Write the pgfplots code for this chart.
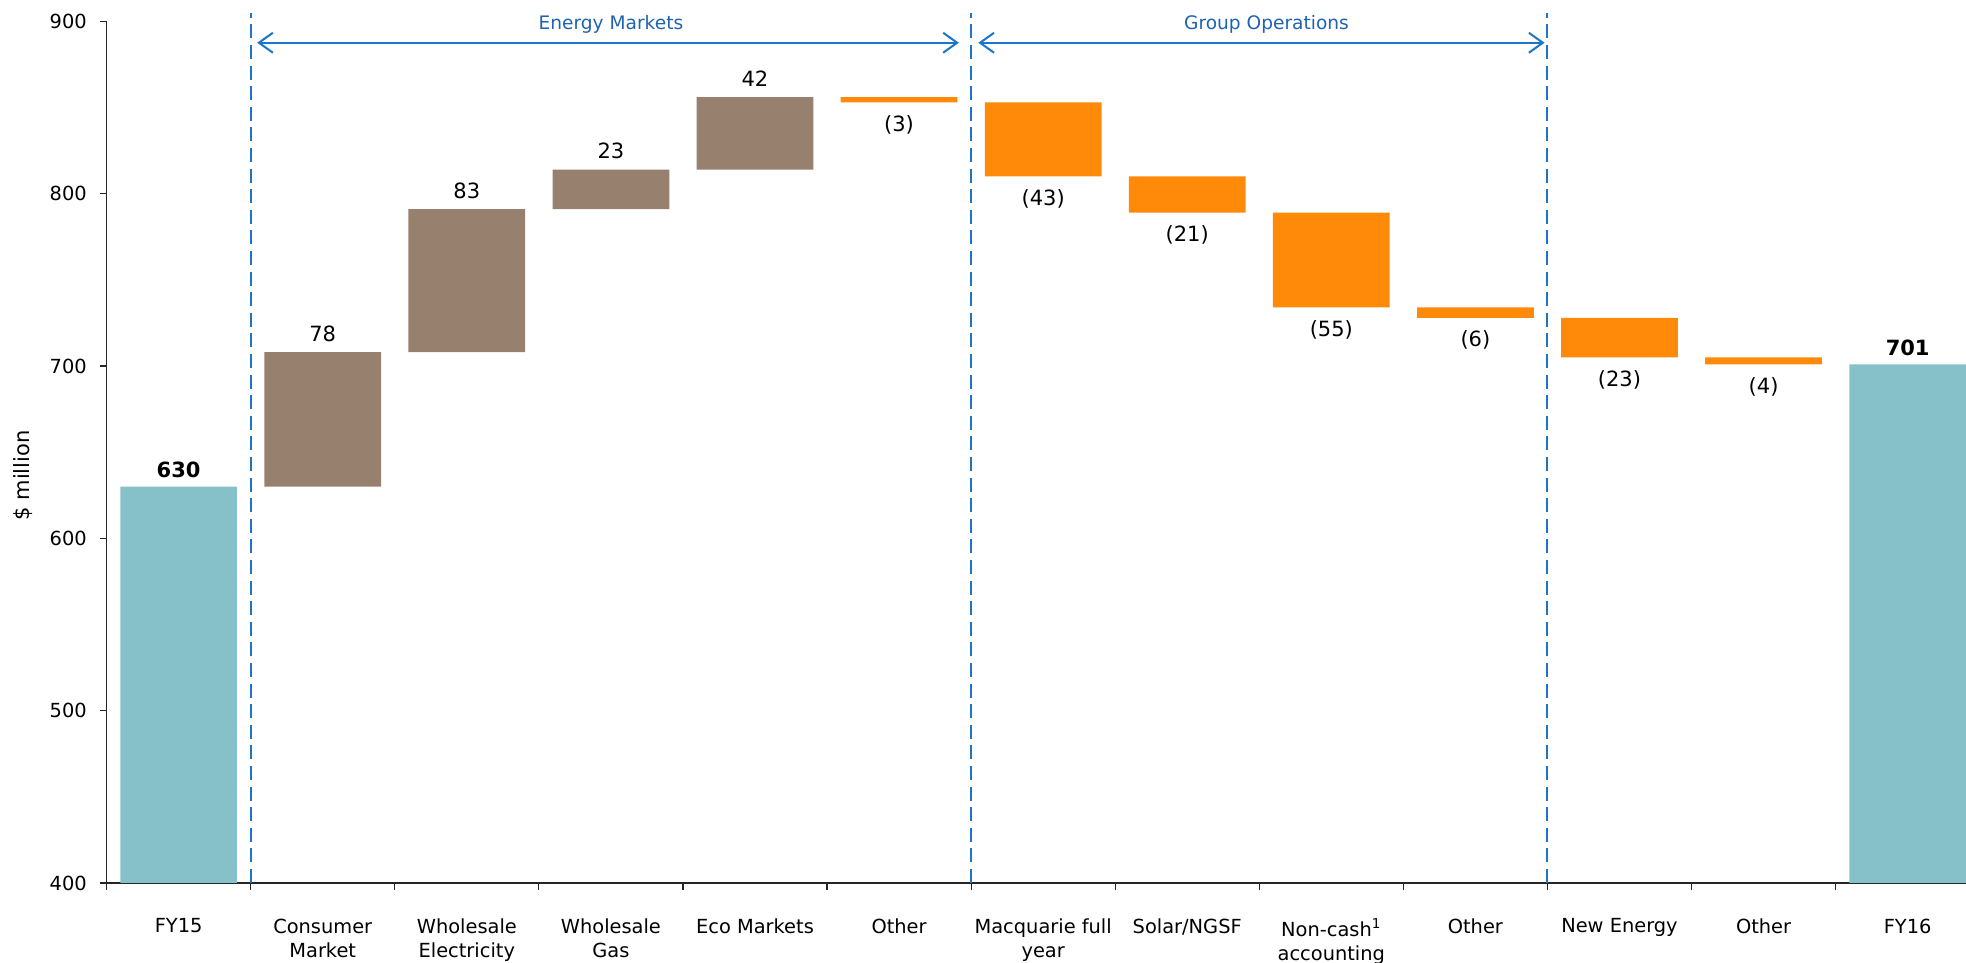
\documentclass[border=0pt]{standalone}
\usepackage{fontspec}
\setmainfont{DejaVu Sans}
\usepackage{pgfplots}
\usepackage{pgfplotstable}
\pgfplotsset{compat=1.18}
\usetikzlibrary{arrows.meta,calc}

\definecolor{totcol}{RGB}{134,193,202}
\definecolor{upcol}{RGB}{152,128,111}
\definecolor{downcol}{RGB}{255,138,10}
\definecolor{grpline}{RGB}{27,117,201}
\definecolor{grptext}{RGB}{31,99,176}

% waterfall: base is the invisible offset, tot/up/down the visible parts
\pgfplotstableread{
x  base  tot  up  down  totlab  uplab  downlab
0  0     630  0   0     630     {}     {}
1  630   0    78  0     {}      78     {}
2  708   0    83  0     {}      83     {}
3  791   0    23  0     {}      23     {}
4  814   0    42  0     {}      42     {}
5  853   0    0   3     {}      {}     (3)
6  810   0    0   43    {}      {}     (43)
7  789   0    0   21    {}      {}     (21)
8  734   0    0   55    {}      {}     (55)
9  728   0    0   6     {}      {}     (6)
10 705   0    0   23    {}      {}     (23)
11 701   0    0   4     {}      {}     (4)
12 0     701  0   0     701     {}     {}
}\wfdata

\newcommand{\lblfont}{\fontsize{10.5}{12}\selectfont}
\tikzset{grpdash/.style={grpline, line width=1pt, dash pattern=on 7pt off 3.3pt},
  grparrow/.style={grpline, line width=1pt, {Straight Barb[length=7pt,width=10pt]}-{Straight Barb[length=7pt,width=10pt]}}}
\pgfplotsset{wfbox/.style={scale only axis, width=929.7pt, height=430.8pt,
    xmin=-0.5, xmax=12.405, ymin=400, ymax=900}}

\begin{document}
\fontsize{9.7}{12}\selectfont
\begin{tikzpicture}
\begin{axis}[
    wfbox,
    ybar stacked, bar width=0.81,
    axis lines=left,
    axis line style={-, black!85, line width=0.6pt},
    tick align=outside,
    tick style={black!85, line width=0.6pt},
    major tick length=3.5pt, minor tick length=3.5pt,
    xtick={0,...,12},
    xticklabels={FY15, {Consumer\\Market}, {Wholesale\\Electricity}, {Wholesale\\Gas},
        {Eco Markets}, Other, {Macquarie full\\year}, {Solar/NGSF},
        {Non-cash\textsuperscript{1}\\accounting}, Other, {New Energy}, Other, FY16},
    major x tick style={draw=none},
    minor xtick={-0.5,0.5,...,11.5},
    ytick={400,500,...,900},
    xticklabel style={align=center, yshift=-11pt},
    yticklabel style={xshift=-3pt},
    /pgf/number format/assume math mode=true,
]
\coordinate (axll) at (rel axis cs:0,0);
\coordinate (axur) at (rel axis cs:1,1);
\addplot[draw=none, fill=none] table[x=x, y=base] {\wfdata};
\addplot[draw=none, fill=totcol] table[x=x, y=tot] {\wfdata};
\addplot[draw=none, fill=upcol] table[x=x, y=up] {\wfdata};
\addplot[draw=none, fill=downcol] table[x=x, y=down] {\wfdata};
\end{axis}

% labels and group markers on an overlaid axis of the same size
\begin{axis}[wfbox, hide axis, clip=false, point meta=explicit symbolic]
\addplot[draw=none, mark=none, nodes near coords,
    every node near coord/.append style={font=\lblfont, anchor=north, yshift=-3pt}]
    table[x=x, y=base, meta=downlab] {\wfdata};
\addplot[draw=none, mark=none, nodes near coords,
    every node near coord/.append style={font=\lblfont\bfseries, anchor=south, yshift=1pt}]
    table[x=x, y=tot, meta=totlab] {\wfdata};
\addplot[draw=none, mark=none, nodes near coords,
    every node near coord/.append style={font=\lblfont, anchor=south, yshift=2pt}]
    table[x=x, y expr=\thisrow{base}+\thisrow{up}, meta=uplab] {\wfdata};

\draw[grpdash] (axis cs:0.5,400) -- (axis cs:0.5,905);
\draw[grpdash] (axis cs:5.5,400) -- (axis cs:5.5,905);
\draw[grpdash] (axis cs:9.5,400) -- (axis cs:9.5,905);
\draw[grparrow] (axis cs:0.545,887.6) -- (axis cs:5.415,887.6);
\draw[grparrow] (axis cs:5.55,887.6) -- (axis cs:9.48,887.6);
\node[text=grptext, font=\fontsize{9.3}{11}\selectfont] at (axis cs:3,898) {Energy Markets};
\node[text=grptext, font=\fontsize{9.3}{11}\selectfont] at (axis cs:7.55,898) {Group Operations};
\end{axis}
\node[rotate=90, font=\fontsize{10.5}{12}\selectfont] at ($(axll)+(-42pt,203.8pt)$) {\$ million};
\pgfresetboundingbox
\path[use as bounding box] ($(axll)+(-53.3pt,-40pt)$) rectangle ($(axur)+(0,10.7pt)$);
\end{tikzpicture}
\end{document}
